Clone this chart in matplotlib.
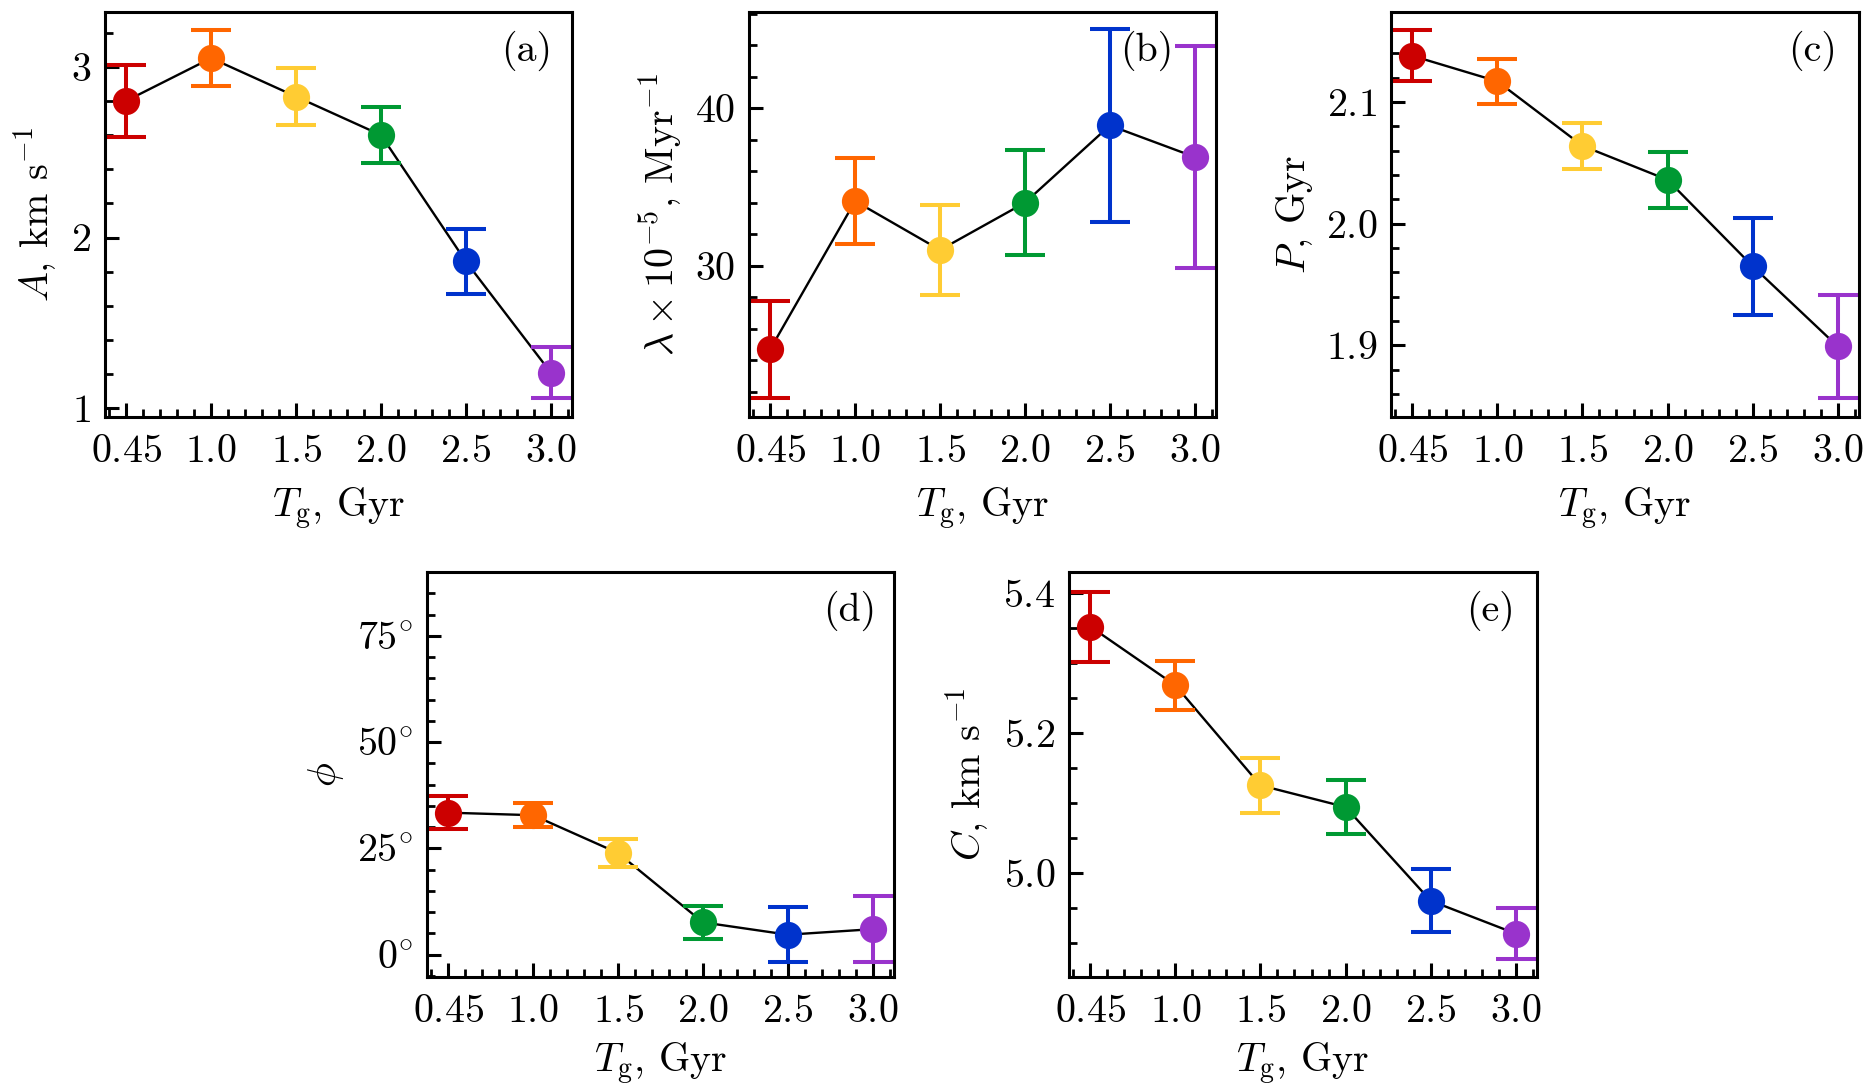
import matplotlib
matplotlib.use('Agg')
import matplotlib.pyplot as plt
from matplotlib.ticker import MultipleLocator, FixedLocator

plt.rcParams['mathtext.fontset'] = 'cm'
plt.rcParams['font.family'] = 'serif'
plt.rcParams['font.serif'] = ['cmr10', 'DejaVu Serif']
plt.rcParams['axes.formatter.use_mathtext'] = True

# gas age groups (plotted at evenly spaced positions)
tg_pos = [0.5, 1.0, 1.5, 2.0, 2.5, 3.0]
tg_labels = ['0.45', '1.0', '1.5', '2.0', '2.5', '3.0']
colors = ['#cc0000', '#ff6600', '#ffcc33', '#009933', '#0033cc', '#9933cc']

# (a) amplitude A, km/s
amp = [2.80, 3.05, 2.825, 2.60, 1.86, 1.21]
amp_err = [0.21, 0.165, 0.165, 0.165, 0.19, 0.147]

# (b) lambda x 1e-5, 1/Myr
lam = [24.7, 34.1, 31.0, 34.0, 38.9, 36.9]
lam_err = [3.07, 2.73, 2.88, 3.35, 6.1, 7.06]

# (c) period P, Gyr
per = [2.138, 2.117, 2.064, 2.036, 1.965, 1.899]
per_err = [0.021, 0.0185, 0.019, 0.023, 0.040, 0.0425]

# (d) phase phi, deg
phi = [33.4, 32.8, 23.9, 7.6, 4.7, 6.0]
phi_err = [3.9, 2.8, 3.3, 3.9, 6.5, 7.7]

# (e) offset C, km/s
cc = [5.352, 5.268, 5.125, 5.094, 4.960, 4.913]
cc_err = [0.050, 0.035, 0.039, 0.039, 0.045, 0.036]

W, H = 1875.0, 1087.0
fig = plt.figure(figsize=(W / 200, H / 200), dpi=200)
FS = 14.4


def make_ax(x0, y0, x1, y1):
    # pixel box of the axes (left, top, right, bottom)
    return fig.add_axes([x0 / W, 1 - y1 / H, (x1 - x0) / W, (y1 - y0) / H])


def panel(ax, y, yerr, ylabel, ylim, major, minor, letter, letter_x=0.955, fmt='%.1f', xpad=6):
    ax.plot(tg_pos, y, color='k', lw=0.85, zorder=1)
    for i in range(len(tg_pos)):
        ax.errorbar(tg_pos[i], y[i], yerr=yerr[i], color=colors[i], fmt='none',
                    elinewidth=1.45, capsize=7.3, capthick=1.45, zorder=2)
        ax.plot(tg_pos[i], y[i], 'o', color=colors[i], ms=9.8, mew=0, zorder=3)
    ax.set_xlim(0.375, 3.125)
    ax.set_ylim(*ylim)
    ax.xaxis.set_major_locator(FixedLocator(tg_pos))
    ax.set_xticklabels(['$%s$' % t for t in tg_labels])
    ax.xaxis.set_minor_locator(MultipleLocator(0.1))
    ax.yaxis.set_major_locator(MultipleLocator(major))
    ax.yaxis.set_minor_locator(MultipleLocator(minor))
    ax.yaxis.set_major_formatter(plt.FuncFormatter(lambda v, p: '$' + (fmt % v) + '$'))
    ax.tick_params(which='both', direction='in', labelsize=FS)
    ax.tick_params(which='major', length=5.2, width=1.1)
    ax.tick_params(which='minor', length=3.0, width=1.0)
    ax.tick_params(axis='x', pad=6)
    ax.tick_params(axis='y', pad=5)
    for s in ax.spines.values():
        s.set_linewidth(1.1)
    ax.set_xlabel(r'$T_\mathrm{g}$, Gyr', fontsize=FS, labelpad=xpad)
    ax.set_ylabel(ylabel, fontsize=FS)
    ax.text(letter_x, 0.955, '(%s)' % letter, transform=ax.transAxes,
            ha='right', va='top', fontsize=FS)


ax_a = make_ax(105, 12, 572, 417)
panel(ax_a, amp, amp_err, r'$A$, km s$^{-1}$', (0.95, 3.32), 1, 0.2, 'a', 0.957, fmt='%d')

ax_b = make_ax(749, 12, 1216, 417)
panel(ax_b, lam, lam_err, r'$\lambda \times 10^{-5}$, Myr$^{-1}$', (20.4, 46.1), 10, 2, 'b', 0.908, fmt='%d')

ax_c = make_ax(1391, 12, 1859, 417)
panel(ax_c, per, per_err, r'$P$, Gyr', (1.841, 2.174), 0.1, 0.02, 'c', 0.953)

ax_d = make_ax(427, 572, 894, 977)
panel(ax_d, phi, phi_err, r'$\phi$', (-5.25, 90), 25, 5, 'd', 0.961, fmt=r'%d^{\circ}', xpad=4)

ax_e = make_ax(1069, 572, 1537, 977)
panel(ax_e, cc, cc_err, r'$C$, km s$^{-1}$', (4.851, 5.43), 0.2, 0.05, 'e', 0.953, xpad=4)

fig.savefig('out.png', dpi=200)
